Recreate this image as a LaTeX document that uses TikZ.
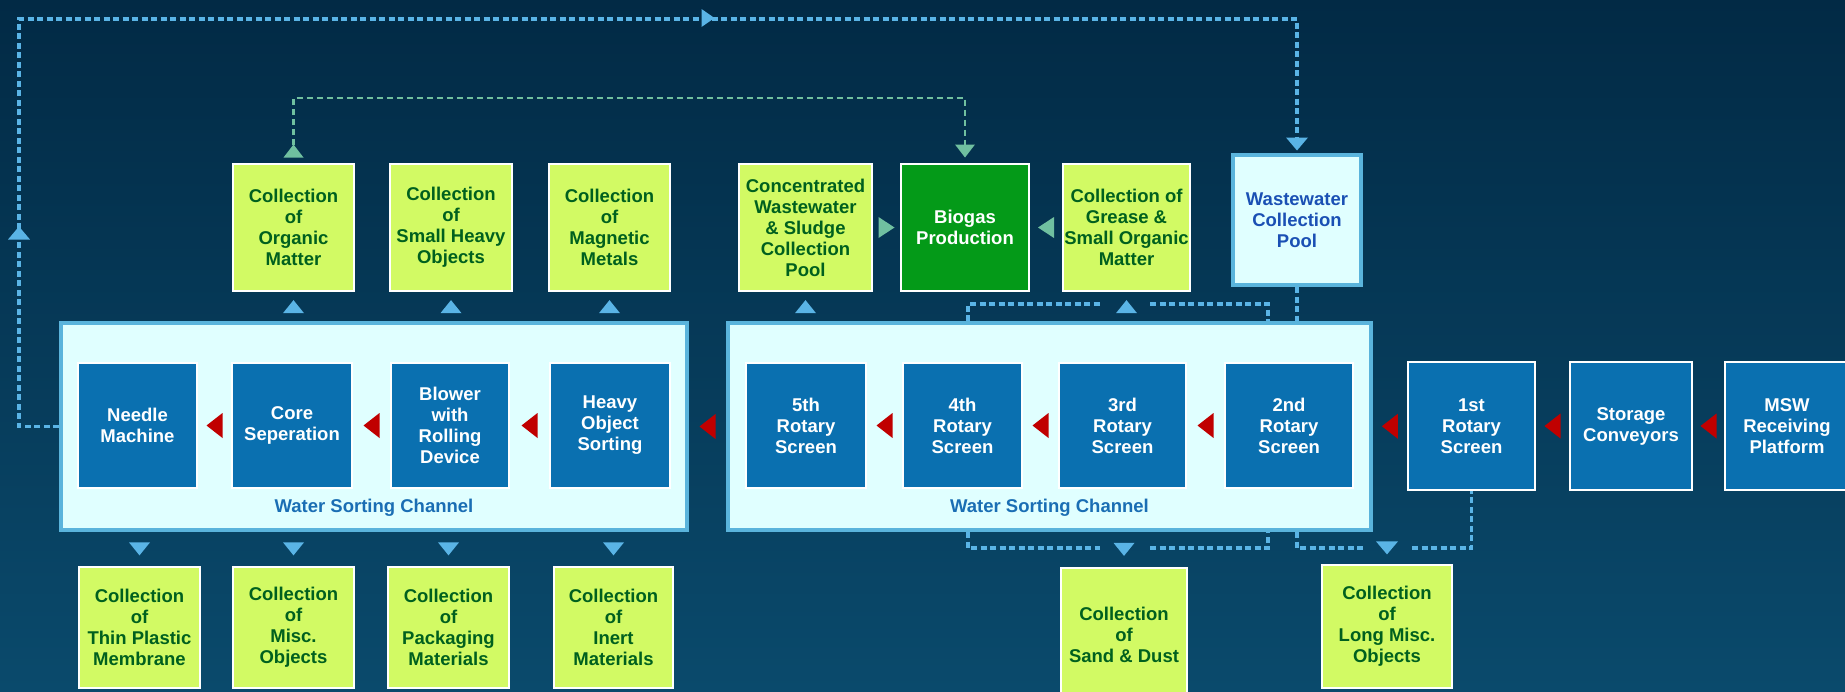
\documentclass[tikz,border=0pt]{standalone}
\usepackage{fontspec}
\setmainfont{Liberation Sans}
\usetikzlibrary{calc}
\definecolor{bgtop}{HTML}{022A45}
\definecolor{bgbot}{HTML}{0A4A6C}
\definecolor{limec}{HTML}{D2FA64}
\definecolor{limetext}{HTML}{00601E}
\definecolor{boxblue}{HTML}{0A70B0}
\definecolor{chfill}{HTML}{E0FFFF}
\definecolor{chborder}{HTML}{5AB4DC}
\definecolor{labelblue}{HTML}{1A6EB4}
\definecolor{wwtext}{HTML}{1A50B4}
\definecolor{biofill}{HTML}{049A18}
\definecolor{arrred}{HTML}{C00000}
\definecolor{dashblue}{HTML}{5AB4E6}
\definecolor{dashgreen}{HTML}{70C0A0}
\tikzset{
  txt/.style={font=\bfseries\fontsize{18.5}{21}\selectfont, align=center, inner sep=0pt},
  lime/.style={txt, rectangle, fill=limec, draw=white, line width=2.5pt, text=limetext},
  bluebox/.style={txt, rectangle, fill=boxblue, draw=white, line width=2pt, text=white, minimum height=125},
  channel/.style={rectangle, fill=chfill, draw=chborder, line width=4pt, minimum height=207},
  dl/.style={draw=dashblue, line width=3.3pt, dash pattern=on 6pt off 3.5pt},
  gl/.style={draw=dashgreen, line width=2.7pt, dash pattern=on 6pt off 4pt},
  pics/tl/.style args={#1/#2}{code={\fill (-#1/2,0) -- (#1/2,-#2/2) -- (#1/2,#2/2) -- cycle;}},
  pics/tr/.style args={#1/#2}{code={\fill (#1/2,0) -- (-#1/2,-#2/2) -- (-#1/2,#2/2) -- cycle;}},
  pics/tu/.style args={#1/#2}{code={\fill (0,-#2/2) -- (-#1/2,#2/2) -- (#1/2,#2/2) -- cycle;}},
  pics/td/.style args={#1/#2}{code={\fill (0,#2/2) -- (-#1/2,-#2/2) -- (#1/2,-#2/2) -- cycle;}},
}
\begin{document}
\begin{tikzpicture}[x=1pt,y=-1pt]
\useasboundingbox (0,0) rectangle (1845,691);
\shade[top color=bgtop,bottom color=bgbot] (0,0) rectangle (1845,691);

% top row
\node[lime, minimum width=121, minimum height=127] (org) at (293.5,227.5) {Collection\\of\\Organic\\Matter};
\node[lime, minimum width=122, minimum height=127] (smh) at (451,227.5) {Collection\\of\\Small Heavy\\Objects};
\node[lime, minimum width=121, minimum height=127] (mag) at (609.5,227.5) {Collection\\of\\Magnetic\\Metals};
\node[lime, minimum width=133, minimum height=127] (conc) at (805.5,227.5) {Concentrated\\Wastewater\\\& Sludge\\Collection\\Pool};
\node[txt, fill=biofill, draw=white, line width=2.5pt, text=white, minimum width=128, minimum height=127] (bio) at (965,227.5) {Biogas\\Production};
\node[lime, minimum width=127, minimum height=127] (grease) at (1126.5,227.5) {Collection of\\Grease \&\\Small Organic\\Matter};
\node[txt, fill=chfill, draw=chborder, line width=4pt, text=wwtext, minimum width=128, minimum height=130] (ww) at (1297,220) {Wastewater\\Collection\\Pool};

% connector coordinates
\coordinate (lc) at (19,19);
\coordinate (wwtop) at (1297,140);
\coordinate (ga) at (293.5,145);
\coordinate (gb) at (965,145);
\coordinate (gmid) at (630,98);
\coordinate (c2tl) at (968,304);
\coordinate (c2tr) at (1268,304);
\coordinate (gapL) at (1100,304);
\coordinate (gapR) at (1150,304);
\coordinate (c2bl) at (968,548);
\coordinate (c2br) at (1268,548);
\coordinate (gapL2) at (1100,548);
\coordinate (gapR2) at (1150,548);
\coordinate (wwb) at (1297,548);
\coordinate (lmL) at (1365,548);
\coordinate (lmR) at (1412,548);

% channels
\node[channel, minimum width=626] (ch1) at (374,426.5) {};
\node[channel, minimum width=643] (ch2) at (1049.5,426.5) {};
\node[txt, text=labelblue] (lab1) at (374,508) {Water Sorting Channel};
\node[txt, text=labelblue] (lab2) at (1049.5,508) {Water Sorting Channel};

% dashed connectors
\draw[dl] (ch1.west) -| (lc) -| (wwtop);
\draw[gl] (ga) |- (gmid) -| (gb);
\draw[dl] (c2tl |- ch2.north) -- (c2tl) -- (gapL);
\draw[dl] (gapR) -- (c2tr) -- (c2tr |- ch2.north);
\draw[dl] (ww.south) -- (ww.south |- ch2.north);
\draw[dl] (c2bl |- ch2.south) -- (c2bl) -- (gapL2);
\draw[dl] (gapR2) -- (c2br) -- (c2br |- ch2.south);
\draw[dl] (wwb |- ch2.south) -- (wwb) -- (lmL);

% middle row
\node[bluebox, minimum width=119] (needle) at (137.5,425.5) {Needle\\Machine};
\node[bluebox, minimum width=120] (core) at (292,425.5) {Core\\Seperation};
\node[bluebox, minimum width=118] (blower) at (450,425.5) {Blower\\with\\Rolling\\Device};
\node[bluebox, minimum width=120] (heavy) at (610,425.5) {Heavy\\Object\\Sorting};
\node[bluebox, minimum width=120] (s5) at (806,425.5) {5th\\Rotary\\Screen};
\node[bluebox, minimum width=119] (s4) at (962.5,425.5) {4th\\Rotary\\Screen};
\node[bluebox, minimum width=127] (s3) at (1122.5,425.5) {3rd\\Rotary\\Screen};
\node[bluebox, minimum width=128] (s2) at (1289,425.5) {2nd\\Rotary\\Screen};
\node[bluebox, minimum width=127, minimum height=128, line width=2.5pt] (s1) at (1471.5,426) {1st\\Rotary\\Screen};
\node[bluebox, minimum width=122, minimum height=128, line width=2.5pt] (stor) at (1631,426) {Storage\\Conveyors};
\node[bluebox, minimum width=124, minimum height=128, line width=2.5pt] (msw) at (1787,426) {MSW\\Receiving\\Platform};

\coordinate (s1b) at (1471.5,548);
\draw[dl] (lmR) -- (s1b) -- (s1.south);

% bottom row
\node[lime, minimum width=121, minimum height=121] (thin) at (139.5,627.5) {Collection\\of\\Thin Plastic\\Membrane};
\node[lime, minimum width=121, minimum height=121] (misc) at (293.5,627.5) {Collection\\of\\Misc.\\Objects};
\node[lime, minimum width=121, minimum height=121] (pack) at (448.5,627.5) {Collection\\of\\Packaging\\Materials};
\node[lime, minimum width=119, minimum height=121] (inert) at (613.5,627.5) {Collection\\of\\Inert\\Materials};
\node[lime, minimum width=126, minimum height=134] (sand) at (1124,635) {Collection\\of\\Sand \& Dust};
\node[lime, minimum width=130, minimum height=123] (long) at (1387,626.5) {Collection\\of\\Long Misc.\\Objects};

% red flow arrows
\foreach \a/\b in {needle/core, core/blower, blower/heavy, ch1/ch2, s5/s4, s4/s3, s3/s2, ch2/s1, s1/stor, stor/msw}
  \pic[color=arrred] at ($(\a.east)!.5!(\b.west)$) {tl=16/25};

% blue up arrows to top collections
\foreach \n in {org, smh, mag, conc}
  \pic[color=dashblue] at ($(\n.south)!.5!(\n.south |- ch1.north)$) {tu=21/13};
\pic[color=dashblue] at ($(grease.south)!.5!(grease.south |- ch2.north)$) {tu=21/13};
% blue down arrows to bottom collections
\foreach \n in {thin, misc, pack, inert}
  \pic[color=dashblue] at ($(\n.north)!.5!(\n.north |- ch1.south)$) {td=21/13};
\pic[color=dashblue] at ($(sand.north)!.5!(sand.north |- ch2.south)$) {td=21/13};
\pic[color=dashblue] at ($(long.north)!.5!(long.north |- ch2.south)$) {td=22/13};

% loop arrows
\pic[color=dashblue] at (19,233) {tu=22/13};
\pic[color=dashblue] at (708,18) {tr=13/18};
\pic[color=dashblue] at (1297,144) {td=22/13};
\pic[color=dashgreen] at (293.5,151) {tu=20/13};
\pic[color=dashgreen] at (965,151) {td=20/13};
\pic[color=dashgreen] at ($(conc.east)!.5!(bio.west)$) {tr=16/21};
\pic[color=dashgreen] at ($(bio.east)!.5!(grease.west)$) {tl=16/21};
\end{tikzpicture}
\end{document}
